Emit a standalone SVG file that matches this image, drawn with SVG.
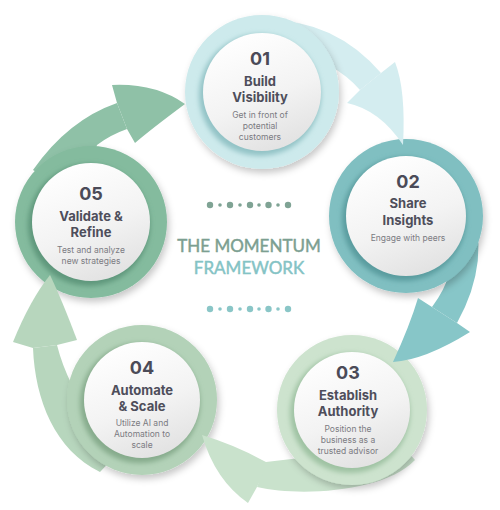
<svg xmlns="http://www.w3.org/2000/svg" width="500" height="510" viewBox="0 0 500 510">
<defs>
  <linearGradient id="disc" x1="0.3" y1="0" x2="0.7" y2="1">
    <stop offset="0" stop-color="#ffffff"/>
    <stop offset="0.55" stop-color="#f3f3f3"/>
    <stop offset="1" stop-color="#e1e1e1"/>
  </linearGradient>
  <filter id="ringShadow" x="-25%" y="-25%" width="150%" height="150%">
    <feDropShadow dx="2" dy="4" stdDeviation="3.5" flood-color="#000" flood-opacity="0.22"/>
  </filter>
  <filter id="shadeBlur" x="-25%" y="-25%" width="150%" height="150%">
    <feGaussianBlur stdDeviation="2.5"/>
  </filter>
</defs>
<style>
  .num{font-family:Inter,"Noto Sans",sans-serif;font-weight:700;font-size:18px;fill:#4b4b58;text-anchor:middle}
  .ttl{font-family:Inter,"Noto Sans",sans-serif;font-weight:700;font-size:13px;fill:#4e4e5b;text-anchor:middle}
  .dsc{font-family:Inter,"Noto Sans",sans-serif;font-weight:400;font-size:8.5px;fill:#7b7b82;text-anchor:middle}
  .head{font-family:Lato,"Open Sans",sans-serif;font-size:17px;text-anchor:middle;stroke-width:0.45px}
  .ring{filter:url(#ringShadow)}
  .shade{filter:url(#shadeBlur)}
</style>
<rect width="500" height="510" fill="#ffffff"/>

<g id="connectors-body">
  <path d="M 268,20 Q 335,20 381,73 L 360,90 Q 348,76 330,66 L 300,60 Z" fill="#d4edf0"/>
  <path d="M 470,200 Q 492,260 457,323 L 432,307 Q 458,272 445,250 Z" fill="#87c6c8"/>
  <path d="M 257,487 C 300,497 385,492 415,460 L 380,420 L 300,458 L 266,462 Z" fill="#c9e2cc"/>
  <path d="M 33,348 C 35,400 55,450 100,472 L 130,440 L 72,385 Q 62,365 57,345 Z" fill="#b7d6bd"/>
  <path d="M 117,103 Q 68,120 33,170 L 80,200 L 97,145 Q 110,135 127,129 Z" fill="#8fc1a7"/>
</g>

<g id="node-01">
  <circle class="ring" cx="262" cy="92" r="77" fill="#cdeaec"/>
  <circle class="shade" cx="260" cy="95" r="61" fill="#93c3c6"/>
  <circle cx="262" cy="92" r="59" fill="url(#disc)"/>
  <text class="num" x="260" y="65">01</text>
  <text class="ttl" x="260" y="85.5">Build</text>
  <text class="ttl" x="260" y="101.5">Visibility</text>
  <text class="dsc" x="260" y="118">Get in front of</text>
  <text class="dsc" x="260" y="129">potential</text>
  <text class="dsc" x="260" y="140">customers</text>
</g>

<g id="node-02">
  <circle class="ring" cx="406" cy="216" r="77" fill="#80bfc1"/>
  <circle class="shade" cx="404" cy="219" r="62" fill="#5a9c9f"/>
  <circle cx="406" cy="216" r="60" fill="url(#disc)"/>
  <text class="num" x="408" y="187.5">02</text>
  <text class="ttl" x="408" y="207.5">Share</text>
  <text class="ttl" x="408" y="224.5">Insights</text>
  <text class="dsc" x="408" y="241">Engage with peers</text>
</g>

<g id="node-03">
  <circle class="ring" cx="352" cy="410" r="75" fill="#cde3ce"/>
  <circle class="shade" cx="350" cy="413" r="60" fill="#9fc2a3"/>
  <circle cx="352" cy="410" r="58" fill="url(#disc)"/>
  <text class="num" x="348" y="378.5">03</text>
  <text class="ttl" x="348" y="399.5">Establish</text>
  <text class="ttl" x="348" y="415.5">Authority</text>
  <text class="dsc" x="348" y="432">Position the</text>
  <text class="dsc" x="348" y="443">business as a</text>
  <text class="dsc" x="348" y="454">trusted advisor</text>
</g>

<g id="node-04">
  <circle class="ring" cx="142" cy="400" r="75" fill="#b3d2b8"/>
  <circle class="shade" cx="140" cy="403" r="60" fill="#86ab8c"/>
  <circle cx="142" cy="400" r="58" fill="url(#disc)"/>
  <text class="num" x="142" y="373.5">04</text>
  <text class="ttl" x="142" y="394.5">Automate</text>
  <text class="ttl" x="142" y="410.5">&amp; Scale</text>
  <text class="dsc" x="142" y="426">Utilize AI and</text>
  <text class="dsc" x="142" y="437">Automation to</text>
  <text class="dsc" x="142" y="448">scale</text>
</g>

<g id="node-05">
  <circle class="ring" cx="91" cy="222" r="76" fill="#84bb9e"/>
  <circle class="shade" cx="89" cy="225" r="61" fill="#5f977b"/>
  <circle cx="91" cy="222" r="59" fill="url(#disc)"/>
  <text class="num" x="91" y="199.5">05</text>
  <text class="ttl" x="91" y="220.5">Validate &amp;</text>
  <text class="ttl" x="91" y="236.5">Refine</text>
  <text class="dsc" x="91" y="253">Test and analyze</text>
  <text class="dsc" x="91" y="264">new strategies</text>
</g>

<g id="connectors-heads">
  <path d="M 381,73 L 395,62 Q 406,90 403,145 Q 380,110 347,103 L 360,90 Z" fill="#d4edf0"/>
  <path d="M 457,323 L 470,332 Q 425,360 393,362 Q 410,325 418,298 L 432,307 Z" fill="#87c6c8"/>
  <path d="M 257,487 L 248,503 Q 215,480 202,435 Q 235,445 262,460 L 268,463 Z" fill="#c9e2cc"/>
  <path d="M 33,348 L 13,342 Q 30,300 50,275 Q 62,300 77,340 L 57,345 Z" fill="#b7d6bd"/>
  <path d="M 117,103 L 112,85 Q 155,83 185,104 Q 150,130 135,143 L 127,129 Z" fill="#8fc1a7"/>
</g>

<g id="title">
  <g fill="#7fa394">
    <circle cx="210" cy="205" r="3.2"/><circle cx="220" cy="205" r="1.8"/>
    <circle cx="230" cy="205" r="3.2"/><circle cx="240" cy="205" r="1.8"/>
    <circle cx="250" cy="205" r="3.2"/><circle cx="259" cy="205" r="1.8"/>
    <circle cx="268.5" cy="205" r="3.2"/><circle cx="278" cy="205" r="1.8"/>
    <circle cx="288" cy="205" r="3.2"/>
  </g>
  <text class="head" x="249" y="252" fill="#7c9f91" stroke="#7c9f91">THE MOMENTUM</text>
  <text class="head" x="249" y="274" fill="#84c3c5" stroke="#84c3c5">FRAMEWORK</text>
  <g fill="#8ac6c7">
    <circle cx="210" cy="309" r="3.2"/><circle cx="220" cy="309" r="1.8"/>
    <circle cx="230" cy="309" r="3.2"/><circle cx="240" cy="309" r="1.8"/>
    <circle cx="250" cy="309" r="3.2"/><circle cx="259" cy="309" r="1.8"/>
    <circle cx="268.5" cy="309" r="3.2"/><circle cx="278" cy="309" r="1.8"/>
    <circle cx="288" cy="309" r="3.2"/>
  </g>
</g>
</svg>
